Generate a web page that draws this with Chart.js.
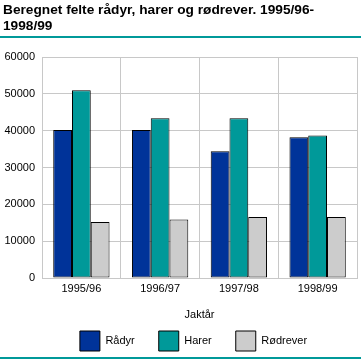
<!DOCTYPE html>
<html><head><meta charset="utf-8">
<script src="https://cdn.jsdelivr.net/npm/chart.js@4/dist/chart.umd.min.js"></script>
<style>
html,body{margin:0;padding:0;background:#fff;}
#wrap{position:relative;width:361px;height:361px;overflow:hidden;}
#title{position:absolute;left:3px;top:2px;font:bold 13.7px "Liberation Sans",Arial,sans-serif;line-height:16px;color:#000;}
.rule{position:absolute;left:0;width:361px;height:2px;background:#009999;}
canvas{position:absolute;left:0;top:0;}
</style></head>
<body><div id="wrap">
<canvas id="c" width="361" height="361"></canvas>
<div id="title">Beregnet felte rådyr, harer og rødrever. 1995/96-<br>1998/99</div>
<div class="rule" style="top:36px"></div>
<div class="rule" style="top:357px"></div>
</div>
<script>
const categories = ["1995/96","1996/97","1997/98","1998/99"];
const seriesNames = ["Rådyr","Harer","Rødrever"];
const raadyr = [40200, 40200, 34400, 38200];
const harer = [51000, 43400, 43400, 38700];
const roedrever = [15200, 15900, 16600, 16600];
const yTicks = [0,10000,20000,30000,40000,50000,60000];
const xTitle = "Jaktår";
const colors = ["#003399","#009999","#cccccc"];

const font = {family:'"Liberation Sans", Arial, sans-serif', size:11};
const legendAdjust = {
  id:'legendAdjust',
  beforeLayout(chart){
    const lg = chart.legend;
    if(lg && !lg._wrapped){
      const f = lg.fit.bind(lg);
      lg.fit = function(){ f(); this.height = 36; };
      lg._wrapped = true;
    }
  },
  afterLayout(chart){
    const lg = chart.legend;
    lg.left += 15; lg.right += 15;
    lg.top -= 16;
  }
};
new Chart(document.getElementById('c'), {
  type:'bar',
  data:{labels:categories, datasets:[raadyr,harer,roedrever].map((d,i)=>({
    label:seriesNames[i], data:d, backgroundColor:colors[i], borderColor:'#000', borderWidth:1, borderSkipped:false,
    categoryPercentage:0.715, barPercentage:1
  }))},
  options:{
    responsive:false, animation:false, devicePixelRatio:1,
    layout:{padding:{top:57,right:4,left:0,bottom:2}},
    plugins:{
      legend:{position:'bottom', labels:{boxWidth:20, boxHeight:20, padding:24, color:'#000', font}},
      tooltip:{enabled:false}
    },
    scales:{
      x:{grid:{color:'#c8c8c8', drawTicks:false, offset:true}, border:{color:'#c8c8c8'},
         ticks:{color:'#000', font, padding:4},
         title:{display:true, text:xTitle, color:'#000', font, padding:{top:9.5,bottom:1}}},
      y:{min:0,max:60000, afterBuildTicks(s){s.ticks=yTicks.map(v=>({value:v}));},
         afterFit(s){s.width=42;},
         grid:{color:'#c8c8c8', drawTicks:false}, border:{color:'#c8c8c8'},
         ticks:{color:'#000', font, padding:7, callback:(v)=>String(v)}}
    }
  },
  plugins:[legendAdjust]
});
</script>
</body></html>
